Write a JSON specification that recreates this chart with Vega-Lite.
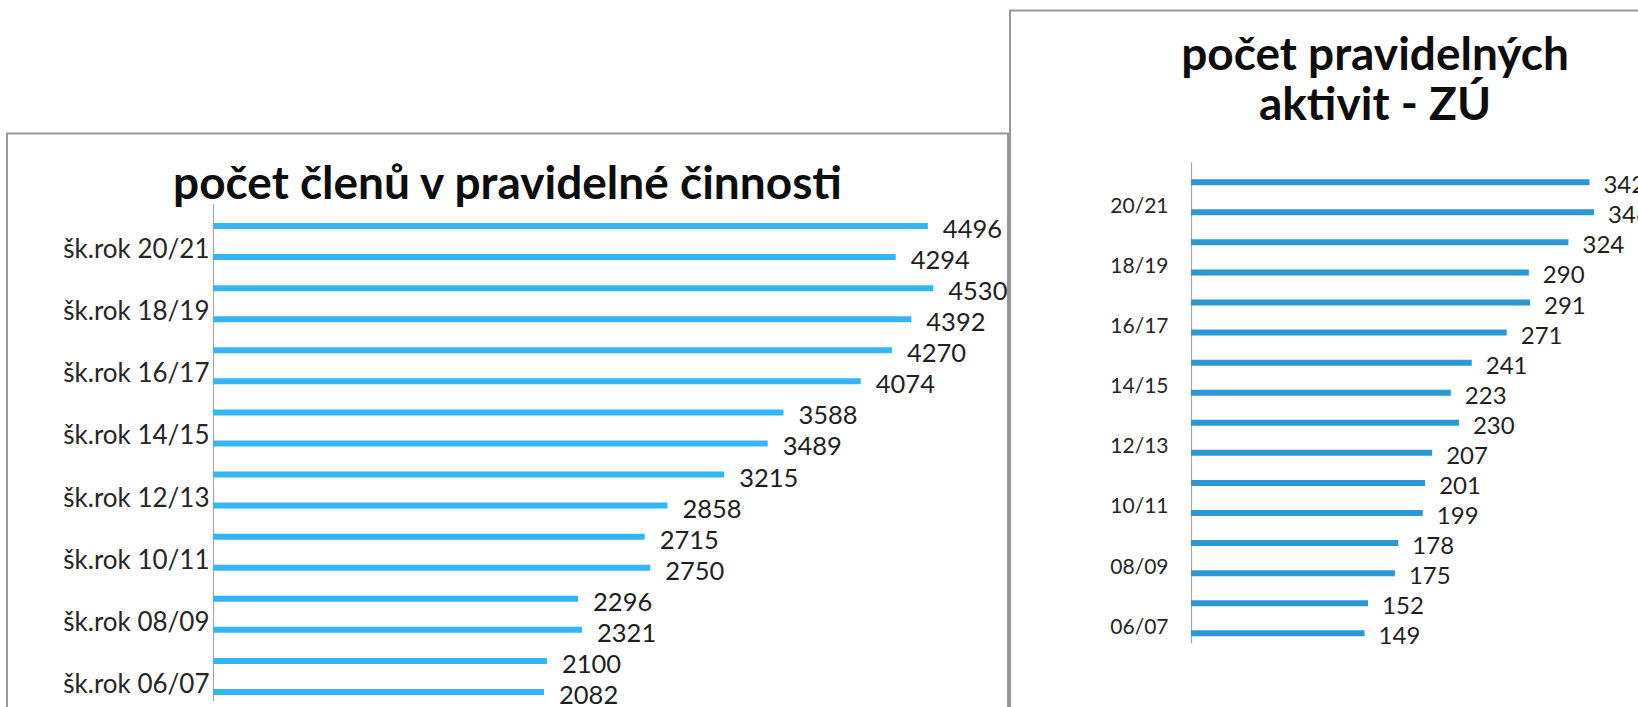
{
  "$schema": "https://vega.github.io/schema/vega-lite/v6.json",
  "background": "white",
  "padding": {"left": 6, "top": 9.5, "right": 0, "bottom": 0},
  "spacing": 0,
  "config": {
    "font": "Lato",
    "view": {"stroke": "#979797", "strokeWidth": 2},
    "axis": {"grid": false, "ticks": false, "tickSize": 0, "labelFont": "Lato", "labelColor": "#262626", "domainColor": "#a6a6a6", "domainWidth": 1.2}
  },
  "datasets": {
    "clenove": [
      {"rok": "šk.rok 21/22", "pocet": 4496},
      {"rok": "šk.rok 20/21", "pocet": 4294},
      {"rok": "šk.rok 19/20", "pocet": 4530},
      {"rok": "šk.rok 18/19", "pocet": 4392},
      {"rok": "šk.rok 17/18", "pocet": 4270},
      {"rok": "šk.rok 16/17", "pocet": 4074},
      {"rok": "šk.rok 15/16", "pocet": 3588},
      {"rok": "šk.rok 14/15", "pocet": 3489},
      {"rok": "šk.rok 13/14", "pocet": 3215},
      {"rok": "šk.rok 12/13", "pocet": 2858},
      {"rok": "šk.rok 11/12", "pocet": 2715},
      {"rok": "šk.rok 10/11", "pocet": 2750},
      {"rok": "šk.rok 09/10", "pocet": 2296},
      {"rok": "šk.rok 08/09", "pocet": 2321},
      {"rok": "šk.rok 07/08", "pocet": 2100},
      {"rok": "šk.rok 06/07", "pocet": 2082}
    ],
    "aktivity": [
      {"rok": "21/22", "pocet": 342},
      {"rok": "20/21", "pocet": 346},
      {"rok": "19/20", "pocet": 324},
      {"rok": "18/19", "pocet": 290},
      {"rok": "17/18", "pocet": 291},
      {"rok": "16/17", "pocet": 271},
      {"rok": "15/16", "pocet": 241},
      {"rok": "14/15", "pocet": 223},
      {"rok": "13/14", "pocet": 230},
      {"rok": "12/13", "pocet": 207},
      {"rok": "11/12", "pocet": 201},
      {"rok": "10/11", "pocet": 199},
      {"rok": "09/10", "pocet": 178},
      {"rok": "08/09", "pocet": 175},
      {"rok": "07/08", "pocet": 152},
      {"rok": "06/07", "pocet": 149}
    ]
  },
  "hconcat": [
    {
      "spacing": 0,
      "vconcat": [
        {
          "width": 1001,
          "height": 122,
          "view": {"stroke": null},
          "data": {"values": []},
          "mark": "point",
          "encoding": {}
        },
        {
          "width": 1001,
          "height": 600,
          "data": {"name": "clenove"},
          "title": {
            "text": "počet členů v pravidelné činnosti",
            "fontSize": 46, "fontWeight": "bold", "font": "Lato", "color": "#0d0d0d",
            "anchor": "middle", "frame": "group", "baseline": "alphabetic", "offset": -111
          },
          "encoding": {
            "y": {
              "field": "rok", "type": "nominal", "sort": null,
              "scale": {"range": [70, 567], "paddingInner": 0, "paddingOuter": 0},
              "axis": {
                "title": null, "orient": "left", "offset": -206,
                "values": ["šk.rok 20/21", "šk.rok 18/19", "šk.rok 16/17", "šk.rok 14/15", "šk.rok 12/13", "šk.rok 10/11", "šk.rok 08/09", "šk.rok 06/07"],
                "labelPadding": 4, "labelFontSize": 26
              }
            },
            "x": {
              "field": "pocet", "type": "quantitative",
              "scale": {"domain": [0, 5000], "range": [206, 1001]},
              "axis": null
            }
          },
          "layer": [
            {"mark": {"type": "bar", "size": 6, "yOffset": 7, "color": "#33B5F6"}},
            {
              "mark": {"type": "text", "align": "left", "baseline": "middle", "dx": 15, "yOffset": 7, "dy": 4, "fontSize": 25.5, "color": "#1f1f1f"},
              "encoding": {"text": {"field": "pocet", "type": "quantitative"}}
            }
          ]
        }
      ]
    },
    {
      "width": 730,
      "height": 720,
      "data": {"name": "aktivity"},
      "title": {
        "text": ["počet pravidelných", "aktivit - ZÚ"],
        "fontSize": 46, "fontWeight": "bold", "font": "Lato", "color": "#0d0d0d", "lineHeight": 50,
        "anchor": "middle", "frame": "group", "baseline": "alphabetic", "offset": -155
      },
      "encoding": {
        "y": {
          "field": "rok", "type": "nominal", "sort": null,
          "scale": {"range": [151.2, 632.3], "paddingInner": 0, "paddingOuter": 0},
          "axis": {
            "title": null, "orient": "left", "offset": -181,
            "values": ["20/21", "18/19", "16/17", "14/15", "12/13", "10/11", "08/09", "06/07"],
            "labelPadding": 23, "labelFontSize": 21
          }
        },
        "x": {
          "field": "pocet", "type": "quantitative",
          "scale": {"domain": [0, 400], "range": [181, 647]},
          "axis": null
        }
      },
      "layer": [
        {"mark": {"type": "bar", "size": 6, "yOffset": 5.5, "color": "#2C98D3"}},
        {
          "mark": {"type": "text", "align": "left", "baseline": "middle", "dx": 14, "yOffset": 5.5, "dy": 4, "fontSize": 24, "color": "#1f1f1f"},
          "encoding": {"text": {"field": "pocet", "type": "quantitative"}}
        }
      ]
    }
  ]
}
